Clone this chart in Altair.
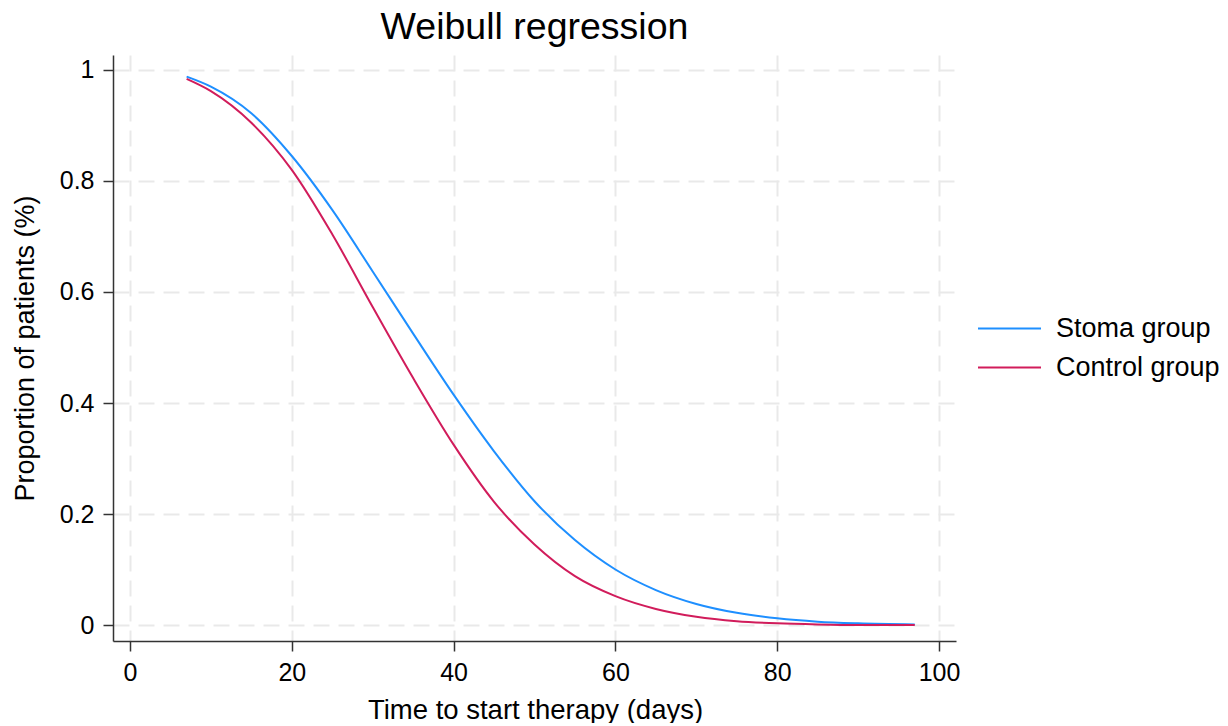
import altair as alt
import pandas as pd

time_days = [7, 10, 15, 20, 25, 30, 35, 40, 45, 50, 55, 60, 65, 70, 75, 80, 85, 90, 97]
stoma = [0.988, 0.970, 0.922, 0.845, 0.748, 0.637, 0.525, 0.415, 0.313, 0.223,
         0.153, 0.100, 0.063, 0.038, 0.022, 0.012, 0.006, 0.003, 0.001]
control = [0.984, 0.962, 0.905, 0.820, 0.704, 0.573, 0.445, 0.325, 0.222, 0.145,
           0.088, 0.052, 0.029, 0.015, 0.007, 0.003, 0.001, 0.0, 0.0]
groups = ["Stoma group", "Control group"]
colors = ["#1E8FFF", "#D11C5B"]
x_ticks = [0, 20, 40, 60, 80, 100]
y_ticks = [0, 0.2, 0.4, 0.6, 0.8, 1]

rows = []
for t, s in zip(time_days, stoma):
    rows.append({"time": t, "prop": s, "group": groups[0]})
for t, c in zip(time_days, control):
    rows.append({"time": t, "prop": c, "group": groups[1]})
df = pd.DataFrame(rows)

FONT = "Liberation Sans"

base = alt.Chart(df).mark_line(strokeWidth=2, interpolate="monotone").encode(
    x=alt.X("time:Q",
            scale=alt.Scale(domain=[-2.1, 102.1], nice=False, zero=False),
            axis=alt.Axis(values=x_ticks, title="Time to start therapy (days)",
                          titleX=422, titleY=77, titleBaseline="alphabetic",
                          titleAnchor="middle", titleFontSize=27.5,
                          labelPadding=9)),
    y=alt.Y("prop:Q",
            scale=alt.Scale(domain=[-0.0288, 1.027], nice=False, zero=False),
            axis=alt.Axis(values=y_ticks, format="~g",
                          title="Proportion of patients (%)",
                          titleX=-80, titleY=293, titleBaseline="alphabetic",
                          titleAngle=-90, titleAlign="center", titleFontSize=27,
                          labelPadding=9)),
    color=alt.Color("group:N",
                    scale=alt.Scale(domain=groups, range=colors),
                    legend=alt.Legend(title=None, orient="none",
                                      legendX=864, legendY=254,
                                      symbolType="stroke", symbolSize=3969,
                                      symbolStrokeWidth=2, labelFontSize=27,
                                      labelFont=FONT, labelColor="#000000",
                                      labelOffset=14, labelLimit=400,
                                      clipHeight=39, rowPadding=0)),
)

stoma_layer = base.transform_filter(alt.datum.group == groups[0])
control_layer = base.transform_filter(alt.datum.group == groups[1])

chart = alt.layer(stoma_layer, control_layer).properties(
    width=843,
    height=586,
    autosize=alt.AutoSizeParams(type="none"),
    padding={"left": 105, "top": 47, "right": 264, "bottom": 82},
    title=alt.Title("Weibull regression", fontSize=37.5, font=FONT,
                    fontWeight="normal", color="#000000",
                    baseline="alphabetic", offset=-21, anchor="middle"),
).configure_view(stroke=None).configure_axis(
    labelFont=FONT, titleFont=FONT, labelFontSize=25, titleFontSize=26,
    labelColor="#000000", titleColor="#000000", titleFontWeight="normal",
    domainColor="#333333", domainWidth=1.5, tickColor="#333333",
    tickWidth=1.5, tickSize=10,
    grid=True, gridColor="#e9e9e9", gridWidth=2, gridDash=[16, 9],
)

chart.save("out.html", embed_options={"renderer": "svg", "actions": False})
